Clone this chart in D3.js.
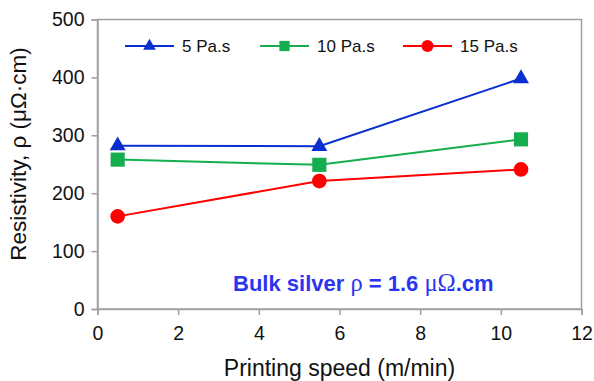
<!DOCTYPE html>
<html>
<head>
<meta charset="utf-8">
<script src="https://cdn.jsdelivr.net/npm/d3@7"></script>
<style>
  body { margin: 0; background: #fff; }
  text { font-family: "Liberation Sans", Arial, Helvetica, sans-serif; }
</style>
</head>
<body>
<div id="chart"></div>
<script>
// printing speed (m/min)
var speeds = [0.5, 5.5, 10.5];
// resistivity per viscosity (uOhm.cm)
var visc5 = [282, 281, 398];
var visc10 = [258, 249, 293];
var visc15 = [160, 221, 241];
var seriesNames = ["5 Pa.s", "10 Pa.s", "15 Pa.s"];
var xTicks = [0, 2, 4, 6, 8, 10, 12];
var yTicks = [0, 100, 200, 300, 400, 500];

var width = 594, height = 381;
var margin = {top: 19.5, right: 12.5, bottom: 72, left: 97.5};

var svg = d3.select("#chart").append("svg")
    .attr("width", width)
    .attr("height", height);

var x = d3.scaleLinear().domain([0, 12]).range([margin.left, width - margin.right]);
var y = d3.scaleLinear().domain([0, 500]).range([height - margin.bottom, margin.top]);

//frame of the plot
svg.append("rect")
    .attr("x", x(0))
    .attr("y", y(500))
    .attr("width", x(12) - x(0))
    .attr("height", y(0) - y(500))
    .attr("fill", "none")
    .attr("stroke", "#a0a0a0")
    .attr("stroke-width", 1.5);

var xAxis = svg.append("g")
    .attr("transform", "translate(0," + y(0) + ")")
    .call(d3.axisBottom(x).tickValues(xTicks).tickSize(6).tickPadding(11).tickFormat(d3.format("d")));
var yAxis = svg.append("g")
    .attr("transform", "translate(" + x(0) + ",0)")
    .call(d3.axisLeft(y).tickValues(yTicks).tickSize(6).tickPadding(7));

[xAxis, yAxis].forEach(function(a){
    a.select(".domain").attr("stroke", "#a0a0a0").attr("stroke-width", 1.5);
    a.selectAll(".tick line").attr("stroke", "#a0a0a0").attr("stroke-width", 1.5);
    a.selectAll(".tick text").attr("font-size", 19.5).attr("fill", "#111")
        .style("font-family", "'Liberation Sans', Arial, sans-serif");
});

//axis titles
svg.append("text")
    .attr("x", (x(0) + x(12)) / 2)
    .attr("y", 376)
    .attr("text-anchor", "middle")
    .attr("font-size", 23)
    .attr("fill", "#111")
    .text("Printing speed (m/min)");

svg.append("text")
    .attr("transform", "translate(26,154) rotate(-90)")
    .attr("text-anchor", "middle")
    .attr("font-size", 22.5)
    .attr("fill", "#111")
    .text("Resistivity, ρ (μΩ·cm)");

var series = [
    {name: seriesNames[0], values: visc5, color: "#0a2fd0", shape: d3.symbolTriangle, size: 110, legendSize: 70},
    {name: seriesNames[1], values: visc10, color: "#14ae4e", shape: d3.symbolSquare, size: 200, legendSize: 105},
    {name: seriesNames[2], values: visc15, color: "#ff0000", shape: d3.symbolCircle, size: 170, legendSize: 115}
];

var line = d3.line()
    .x(function(d, i){ return x(speeds[i]); })
    .y(function(d){ return y(d); });

series.forEach(function(s){
    svg.append("path")
        .attr("d", line(s.values))
        .attr("fill", "none")
        .attr("stroke", s.color)
        .attr("stroke-width", 2);
    svg.selectAll(null)
        .data(s.values)
        .enter()
        .append("path")
        .attr("d", d3.symbol().type(s.shape).size(s.size))
        .attr("transform", function(d, i){ return "translate(" + x(speeds[i]) + "," + y(d) + ")"; })
        .attr("fill", s.color);
});

//legend
var legendX = [125, 260, 403];
series.forEach(function(s, i){
    var g = svg.append("g").attr("transform", "translate(" + legendX[i] + ",46)");
    g.append("line")
        .attr("x1", 0).attr("x2", 49)
        .attr("stroke", s.color).attr("stroke-width", 2);
    g.append("path")
        .attr("d", d3.symbol().type(s.shape).size(s.legendSize))
        .attr("transform", "translate(24.5,0)")
        .attr("fill", s.color);
    g.append("text")
        .attr("x", 57)
        .attr("y", 6)
        .attr("font-size", 17)
        .attr("fill", "#111")
        .text(s.name);
});

//bulk silver note
var note = svg.append("text")
    .attr("x", 233)
    .attr("y", 290.5)
    .attr("font-size", 22)
    .attr("font-weight", "bold")
    .attr("fill", "#2b35f0");
note.append("tspan").text("Bulk silver ");
note.append("tspan").style("font-family", "'Liberation Serif', 'Times New Roman', serif").attr("font-weight", "normal").attr("font-size", 24.5).text("ρ");
note.append("tspan").text(" = 1.6 ");
note.append("tspan").style("font-family", "'Liberation Serif', 'Times New Roman', serif").attr("font-weight", "normal").attr("font-size", 24.5).text("μΩ");
note.append("tspan").text(".cm");
</script>
</body>
</html>
